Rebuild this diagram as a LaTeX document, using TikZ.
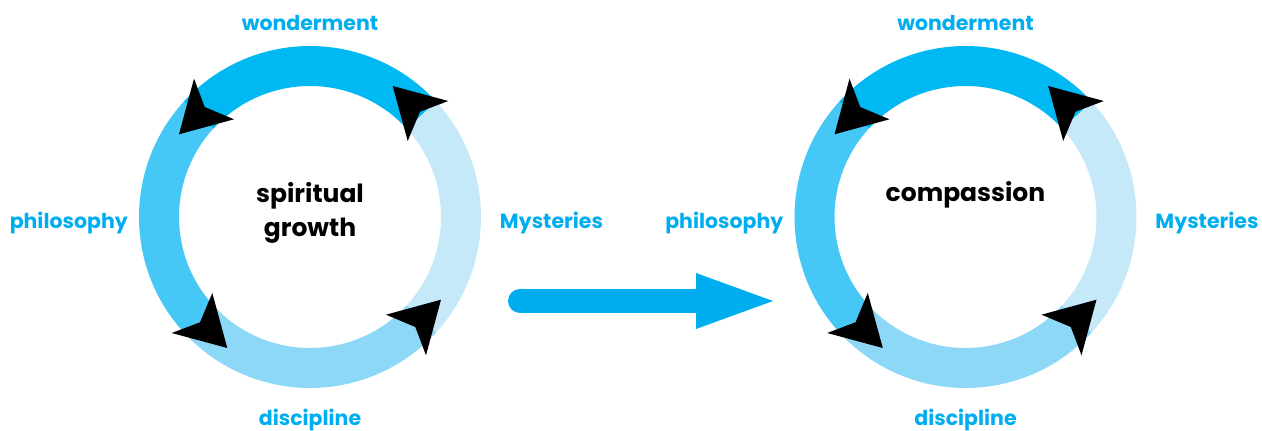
\documentclass[tikz,border=0pt]{standalone}
\usepackage{fontspec}
\setmainfont{Poppins}
\definecolor{cTop}{HTML}{00B9F2}
\definecolor{cLeft}{HTML}{45C8F5}
\definecolor{cBottom}{HTML}{8ED8F7}
\definecolor{cRight}{HTML}{C6E9F9}
\definecolor{cLabel}{HTML}{00AEEF}
\definecolor{cArrow}{HTML}{00AEEF}
\tikzset{
  lbl/.style={text=cLabel, font=\bfseries\fontsize{20.5}{25}\selectfont, inner sep=0pt, anchor=base},
  ctr/.style={text=black, font=\bfseries\fontsize{25}{34}\selectfont, inner sep=0pt, align=center},
  headfill/.style={fill=black},
}
\newcommand{\ringseg}[3]{%
  \fill[#1] (#2:171) arc[start angle=#2,end angle=#3,radius=171] -- (#3:131) arc[start angle=#3,end angle=#2,radius=131] -- cycle;}
\begin{document}
\begin{tikzpicture}[x=1pt,y=1pt]
\useasboundingbox (0,0) rectangle (1262,431);
\coordinate (cL) at (310,214);
\coordinate (cR) at (965.5,214);
\foreach \c in {cL,cR}{
  \begin{scope}[shift={(\c)}]
    \ringseg{cRight}{316.5}{403.5}
    \ringseg{cBottom}{222.5}{317.5}
    \ringseg{cLeft}{136.5}{223.5}
    \ringseg{cTop}{42.5}{137.5}
    \foreach \r in {0,90,180,270}{
      \fill[headfill,rotate=\r] (82.7,131) -- (138.3,116) -- (110,105.3) -- (97.7,76) -- cycle;
    }
  \end{scope}
}
% centre texts
\node[ctr] (tL) at (310,218.5) {spiritual\\growth};
\node[ctr, anchor=base] (tR) at (965.5,229.3) {compassion};
% labels left ring
\node[lbl] (wL) at (310,400.3) {wonderment};
\node[lbl] (pL) at (68.8,202.7) {philosophy};
\node[lbl] (mL) at (551.5,202.7) {Mysteries};
\node[lbl] (dL) at (310,5) {discipline};
% labels right ring
\node[lbl] (wR) at (965.5,400.3) {wonderment};
\node[lbl] (pR) at (724.3,202.7) {philosophy};
\node[lbl] (mR) at (1207,202.7) {Mysteries};
\node[lbl] (dR) at (965.5,5) {discipline};
% big arrow
\coordinate (aS) at (520,130);
\coordinate (aB) at (697,130);
\coordinate (aE) at (773,130);
\draw[cArrow, line width=24, line cap=round] (aS) -- (aB);
\fill[cArrow] (696,158) -- (aE) -- (696,102) -- cycle;
\end{tikzpicture}
\end{document}
